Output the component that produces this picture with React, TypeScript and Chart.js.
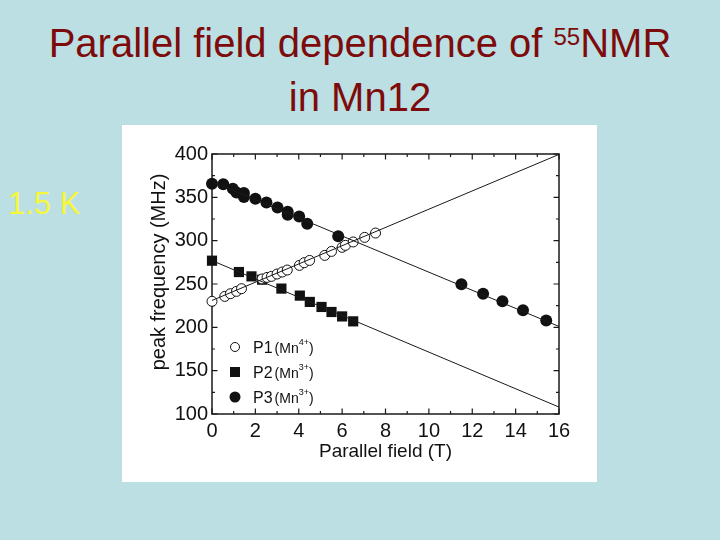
import { useEffect, useRef } from "react";
import { Chart, registerables } from "chart.js";

Chart.register(...registerables);

const FONT = "'Liberation Sans', Arial, Helvetica, sans-serif";

// Axis ranges and tick labels
const xTicks = [0, 2, 4, 6, 8, 10, 12, 14, 16];
const yTicks = [100, 150, 200, 250, 300, 350, 400];

// P1 (Mn4+) — open circles
const fieldP1 = [0, 0.59, 0.85, 1.13, 1.36, 2.31, 2.54, 2.74, 3.0, 3.24, 3.47, 4.03, 4.25, 4.5, 5.2, 5.51, 6.0, 6.15, 6.51, 7.04, 7.54];
const freqP1 = [230, 235.7, 238.8, 241.5, 244.6, 255.8, 257.6, 258.8, 261.5, 263.8, 266.1, 271.5, 274.6, 277.2, 283, 287.6, 292.3, 294.6, 298.5, 303.8, 308.8];

// P2 (Mn3+) — filled squares
const fieldP2 = [0, 1.24, 1.82, 2.31, 3.2, 4.05, 4.51, 5.05, 5.51, 6.0, 6.51];
const freqP2 = [276.9, 263.8, 258.8, 255, 244.7, 236.6, 229.3, 223.5, 217.7, 212.6, 206.9];

// P3 (Mn3+) — filled circles
const fieldP3 = [0, 0.52, 0.96, 1.13, 1.47, 1.47, 2.0, 2.51, 3.02, 3.49, 3.49, 4.02, 4.39, 5.82, 11.5, 12.5, 13.39, 14.34, 15.41];
const freqP3 = [365.7, 365, 360, 355.7, 355, 350.4, 348.4, 344, 338.4, 333.4, 330, 328, 319.6, 305, 249.6, 238.8, 230, 219.6, 208];

// Straight guide lines through each branch
const lineField = [0, 16];
const lineP1 = [231, 399.5];
const lineP2 = [277, 108];
const lineP3 = [368, 201];

const legendRows = [
  { name: "P1", ion: "4+", style: "openCircle" },
  { name: "P2", ion: "3+", style: "square" },
  { name: "P3", ion: "3+", style: "dot" },
];

const pts = (xs: number[], ys: number[]) => xs.map((x, i) => ({ x, y: ys[i] }));

const framePlugin = {
  id: "frameTicks",
  beforeDatasetsDraw(chart: any) {
    const { ctx, chartArea: a, scales } = chart;
    const xs = scales.x;
    const ys = scales.y;
    ctx.save();
    ctx.strokeStyle = "#1a1a1a";
    ctx.lineWidth = 1.5;
    ctx.strokeRect(a.left, a.top, a.right - a.left, a.bottom - a.top);
    ctx.lineWidth = 1.2;
    ctx.beginPath();
    for (let v = 0; v <= 16; v += 1) {
      const px = xs.getPixelForValue(v);
      const len = v % 2 === 0 ? 5.5 : 3;
      ctx.moveTo(px, a.bottom);
      ctx.lineTo(px, a.bottom - len);
      ctx.moveTo(px, a.top);
      ctx.lineTo(px, a.top + len);
    }
    for (let v = 100; v <= 400; v += 25) {
      const py = ys.getPixelForValue(v);
      const len = v % 50 === 0 ? 5.5 : 3;
      ctx.moveTo(a.left, py);
      ctx.lineTo(a.left + len, py);
      ctx.moveTo(a.right, py);
      ctx.lineTo(a.right - len, py);
    }
    ctx.stroke();
    ctx.restore();
  },
  afterDraw(chart: any) {
    const { ctx, chartArea: a } = chart;
    ctx.save();
    ctx.fillStyle = "#111";
    // axis titles
    ctx.font = `19px ${FONT}`;
    ctx.textAlign = "center";
    ctx.textBaseline = "alphabetic";
    ctx.fillText("Parallel field (T)", (a.left + a.right) / 2, a.bottom + 43);
    ctx.save();
    ctx.translate(a.left - 53, a.top + 118);
    ctx.rotate(-Math.PI / 2);
    ctx.font = `20px ${FONT}`;
    ctx.textBaseline = "middle";
    ctx.fillText("peak frequency (MHz)", 0, 0);
    ctx.restore();

    // legend
    legendRows.forEach((row, i) => {
      const mx = a.left + 23;
      const my = a.top + 193 + i * 25;
      ctx.beginPath();
      ctx.lineWidth = 1;
      ctx.strokeStyle = "#111";
      if (row.style === "openCircle") {
        ctx.arc(mx, my, 4.5, 0, Math.PI * 2);
        ctx.fillStyle = "#fff";
        ctx.fill();
        ctx.stroke();
      } else if (row.style === "square") {
        ctx.fillStyle = "#111";
        ctx.fillRect(mx - 5, my - 5, 10, 10);
      } else {
        ctx.arc(mx, my, 5.5, 0, Math.PI * 2);
        ctx.fillStyle = "#111";
        ctx.fill();
      }
      ctx.fillStyle = "#111";
      ctx.textAlign = "left";
      ctx.textBaseline = "alphabetic";
      let tx = a.left + 41;
      const base = my + 6;
      ctx.font = `16px ${FONT}`;
      ctx.fillText(row.name, tx, base);
      tx += ctx.measureText(row.name).width + 2;
      ctx.font = `14px ${FONT}`;
      ctx.fillText("(Mn", tx, base);
      tx += ctx.measureText("(Mn").width;
      ctx.font = `9px ${FONT}`;
      ctx.fillText(row.ion, tx, base - 8);
      tx += ctx.measureText(row.ion).width;
      ctx.font = `14px ${FONT}`;
      ctx.fillText(")", tx, base);
    });
    ctx.restore();
  },
};

function NmrChart() {
  const ref = useRef<HTMLCanvasElement>(null);
  useEffect(() => {
    if (!ref.current) return;
    const lineStyle = {
      type: "line" as const,
      showLine: true,
      borderColor: "#1a1a1a",
      borderWidth: 1,
      pointRadius: 0,
      fill: false,
      clip: false as const,
    };
    const chart = new Chart(ref.current, {
      type: "scatter",
      data: {
        datasets: [
          { ...lineStyle, label: "fit P1", data: pts(lineField, lineP1) },
          { ...lineStyle, label: "fit P2", data: pts(lineField, lineP2) },
          { ...lineStyle, label: "fit P3", data: pts(lineField, lineP3) },
          {
            label: "P1 (Mn4+)",
            data: pts(fieldP1, freqP1),
            pointStyle: "circle",
            pointRadius: 5,
            backgroundColor: "#fff",
            borderColor: "#111",
            borderWidth: 1,
            clip: false,
          },
          {
            label: "P2 (Mn3+)",
            data: pts(fieldP2, freqP2),
            pointStyle: "rect",
            pointRadius: 7.2,
            backgroundColor: "#111",
            borderColor: "#111",
            borderWidth: 0,
            clip: false,
          },
          {
            label: "P3 (Mn3+)",
            data: pts(fieldP3, freqP3),
            pointStyle: "circle",
            pointRadius: 6,
            backgroundColor: "#111",
            borderColor: "#111",
            borderWidth: 0,
            clip: false,
          },
        ],
      },
      options: {
        responsive: false,
        animation: false,
        events: [],
        layout: { padding: { left: 0, right: 38, top: 29, bottom: 0 } },
        plugins: { legend: { display: false }, tooltip: { enabled: false } },
        scales: {
          x: {
            type: "linear",
            min: xTicks[0],
            max: xTicks[xTicks.length - 1],
            afterBuildTicks: (s: any) => {
              s.ticks = xTicks.map((v) => ({ value: v }));
            },
            afterFit: (s: any) => {
              s.height = 68;
            },
            ticks: { font: { family: FONT, size: 20 }, color: "#111", padding: 5, maxRotation: 0 },
            grid: { display: false, drawTicks: false },
            border: { display: false },
          },
          y: {
            type: "linear",
            min: yTicks[0],
            max: yTicks[yTicks.length - 1],
            afterBuildTicks: (s: any) => {
              s.ticks = yTicks.map((v) => ({ value: v }));
            },
            afterFit: (s: any) => {
              s.width = 90;
            },
            ticks: { font: { family: FONT, size: 20 }, color: "#111", padding: 4 },
            grid: { display: false, drawTicks: false },
            border: { display: false },
          },
        },
      },
      plugins: [framePlugin],
    });
    return () => chart.destroy();
  }, []);
  return <canvas ref={ref} width={475} height={357} style={{ display: "block" }} />;
}

export default function App() {
  return (
    <div
      style={{
        position: "fixed",
        left: 0,
        top: 0,
        width: 720,
        height: 540,
        background: "#bbdfe3",
        overflow: "hidden",
        fontFamily: FONT,
      }}
    >
      <div
        style={{
          position: "absolute",
          left: 0,
          top: 19,
          width: 720,
          textAlign: "center",
          fontSize: 40,
          lineHeight: "48px",
          color: "#7d0b0b",
        }}
      >
        <div>
          Parallel field dependence of{" "}
          <span style={{ fontSize: 24, position: "relative", top: -12 }}>55</span>NMR
        </div>
        <div>in Mn12</div>
      </div>
      <div
        style={{
          position: "absolute",
          left: 8,
          top: 188,
          fontSize: 31,
          lineHeight: "31px",
          color: "#f6f63a",
          whiteSpace: "nowrap",
        }}
      >
        1.5 K
      </div>
      <div
        style={{
          position: "absolute",
          left: 122,
          top: 125,
          width: 475,
          height: 357,
          background: "#ffffff",
        }}
      >
        <NmrChart />
      </div>
    </div>
  );
}
